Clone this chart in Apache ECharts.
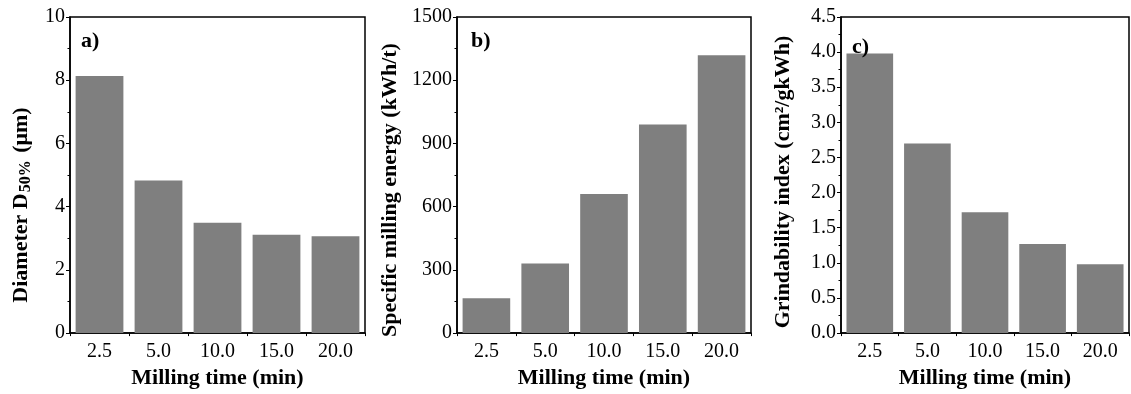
<!DOCTYPE html>
<html>
<head>
<meta charset="utf-8">
<script src="https://cdn.jsdelivr.net/npm/echarts@6/dist/echarts.min.js"></script>
<style>
html,body{margin:0;padding:0;background:#fff;}
#chart{width:1131px;height:394px;}
</style>
</head>
<body>
<div id="chart"></div>
<script>
var categories = ['2.5', '5.0', '10.0', '15.0', '20.0'];
var diameterD50 = [8.13, 4.83, 3.49, 3.11, 3.06];
var millingEnergy = [165, 330, 660, 990, 1318];
var grindability = [3.98, 2.70, 1.72, 1.27, 0.98];
var panelLabels = ['a)', 'b)', 'c)'];
var xTitle = 'Milling time (min)';

var FONT = '"Liberation Serif", "Times New Roman", serif';
var chart = echarts.init(document.getElementById('chart'));

var grids = [
  {left: 70, width: 295, top: 17, height: 325},
  {left: 457, width: 294, top: 17, height: 325},
  {left: 841, width: 288, top: 17, height: 325}
];

function xAxis(i) {
  return {
    type: 'category', gridIndex: i, data: categories,
    name: xTitle, nameLocation: 'middle', nameGap: 32,
    nameTextStyle: {fontFamily: FONT, fontWeight: 'bold', fontSize: 22, color: '#000'},
    axisLine: {lineStyle: {color: '#000', width: 1.5}},
    axisTick: {alignWithLabel: true, length: 5, lineStyle: {color: '#000'}},
    axisLabel: {fontFamily: FONT, fontSize: 20, color: '#000', margin: 9}
  };
}
function xAxisMinor(i) {
  return {
    type: 'category', gridIndex: i, data: categories, position: 'bottom',
    axisLine: {show: false},
    axisTick: {show: true, length: 3, lineStyle: {color: '#000'}},
    axisLabel: {show: false}
  };
}
function yAxis(i, max, interval, name, gap, pad, fmt) {
  return {
    type: 'value', gridIndex: i, min: 0, max: max, interval: interval,
    name: name, nameLocation: 'middle', nameGap: gap,
    nameTextStyle: {fontFamily: FONT, fontWeight: 'bold', fontSize: 22, color: '#000',
      padding: pad,
      rich: {
        b: {fontFamily: FONT, fontWeight: 'bold', fontSize: 22, color: '#000'},
        sub: {fontFamily: FONT, fontWeight: 'bold', fontSize: 16, color: '#000', verticalAlign: 'bottom', padding: [10, 2, 0, 1]}
      }},
    splitLine: {show: false},
    axisLine: {show: true, lineStyle: {color: '#000', width: 1.5}},
    axisTick: {show: true, inside: false, length: 4, lineStyle: {color: '#000'}},
    minorTick: {show: true, splitNumber: 2, length: 2.5, lineStyle: {color: '#000'}},
    axisLabel: {fontFamily: FONT, fontSize: 20, color: '#000', margin: 5, formatter: fmt}
  };
}

function bar(i, data) {
  return {
    type: 'bar', xAxisIndex: i, yAxisIndex: i, data: data,
    barCategoryGap: '19%', itemStyle: {color: '#7f7f7f'}, silent: true
  };
}

var option = {
  animation: false,
  backgroundColor: '#fff',
  grid: grids.map(function (g) {
    return Object.assign({show: true, borderColor: '#000', borderWidth: 1.5, backgroundColor: 'transparent'}, g);
  }),
  xAxis: [xAxis(0), xAxis(1), xAxis(2), xAxisMinor(0), xAxisMinor(1), xAxisMinor(2)],
  yAxis: [
    yAxis(0, 10, 2, '{b|Diameter D}{sub|50%}{b| (μm)}', 36, [0, 60, 0, 0], function (v) { return String(v); }),
    yAxis(1, 1500, 300, 'Specific milling energy (kWh/t)', 56, [0, 30, 0, 0], function (v) { return String(v); }),
    yAxis(2, 4.5, 0.5, 'Grindability index (cm²/gkWh)', 47, [0, 14, 0, 0], function (v) { return v.toFixed(1); })
  ],
  title: [
    {text: panelLabels[0], left: 81, top: 30},
    {text: panelLabels[1], left: 471, top: 30},
    {text: panelLabels[2], left: 852, top: 36}
  ].map(function (t) {
    t.padding = 0;
    t.textStyle = {fontFamily: FONT, fontWeight: 'bold', fontSize: 22, color: '#000'};
    return t;
  }),
  series: [bar(0, diameterD50), bar(1, millingEnergy), bar(2, grindability)]
};
chart.setOption(option);
</script>
</body>
</html>
